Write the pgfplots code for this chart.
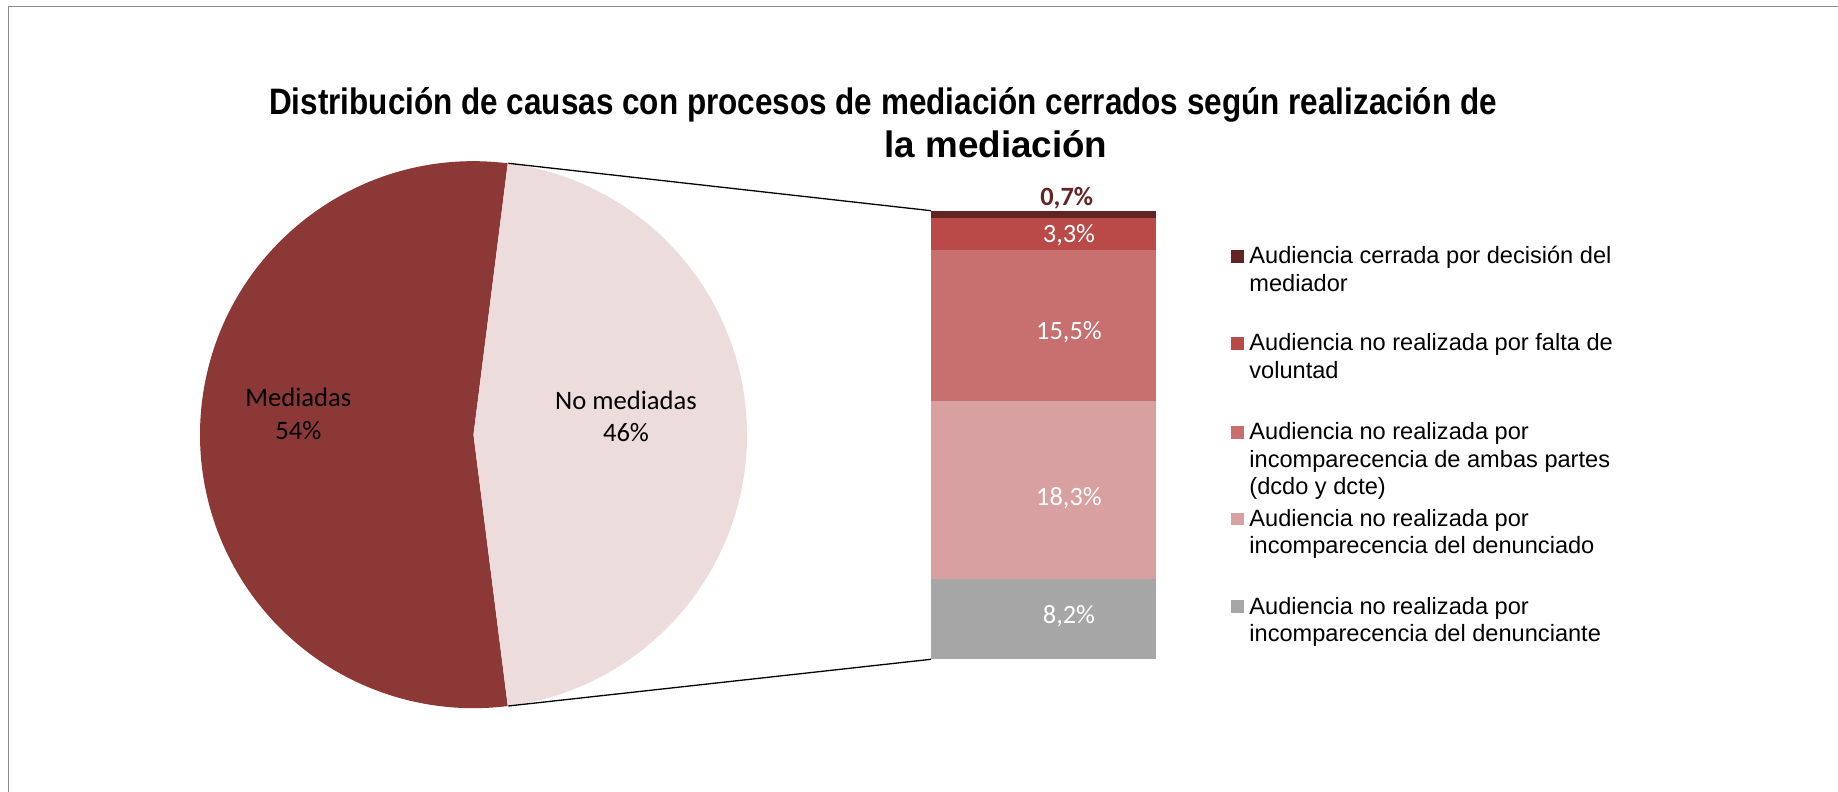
\documentclass[border=0pt]{standalone}
\usepackage{pgfplots}
\pgfplotsset{compat=1.18}
\usepackage{fontspec}
\setmainfont{Liberation Sans}
\newfontfamily\calfont{Carlito}
\definecolor{cMed}{RGB}{140,56,54}
\definecolor{cNo}{RGB}{237,220,220}
\definecolor{cA}{RGB}{99,37,35}
\definecolor{cB}{RGB}{185,74,72}
\definecolor{cC}{RGB}{200,112,112}
\definecolor{cD}{RGB}{216,160,160}
\definecolor{cE}{RGB}{166,166,166}
\definecolor{cFrame}{RGB}{140,140,140}
% pie data (percent)
\def\pMed{54}
\def\pNo{46}
\pgfmathsetmacro{\half}{\pNo*1.8}
\pgfmathsetmacro{\other}{360-\half}
\pgfplotsset{barbox/.style={at={(465.5pt,66.35pt)}, anchor=south west, scale only axis,
  width=112.35pt, height=224.3pt, xmin=-0.5, xmax=0.5, ymin=0, ymax=46,
  hide axis, clip=false}}
\begin{document}
\begin{tikzpicture}
\useasboundingbox (0,0) rectangle (919pt,396pt);
% main canvas axis: 1 unit = 1 px = 0.5pt
\begin{axis}[at={(0pt,0pt)}, anchor=south west, scale only axis,
  width=919pt, height=396pt, xmin=0, xmax=1838, ymin=0, ymax=792,
  hide axis, clip=false]
  % frame
  \draw[cFrame, line width=0.65pt] (axis cs:8.3,0) -- (axis cs:8.3,785.3) -- (axis cs:1838,785.3);
  % pie
  \fill[cMed] (axis cs:473.5,357.3) -- ++(\half:136.75pt) arc[start angle=\half, end angle=\other, radius=136.75pt] -- cycle;
  \fill[cNo] (axis cs:473.5,357.3) -- ++(-\half:136.75pt) arc[start angle=-\half, end angle=\half, radius=136.75pt] -- cycle;
  % connectors
  \draw[black, line width=0.65pt] (axis cs:508.3,628.7) -- (axis cs:931,581.3);
  \draw[black, line width=0.65pt] (axis cs:508.3,86) -- (axis cs:931,132.7);
  % pie labels
  \tikzset{pl/.style={anchor=base, font=\calfont\fontsize{13.3}{15}\selectfont, text=black, inner sep=0pt}}
  \node[pl] at (axis cs:298.3,385.3) {Mediadas};
  \node[pl] at (axis cs:298.3,352) {\pMed\%};
  \node[pl] at (axis cs:626,382) {No mediadas};
  \node[pl] at (axis cs:626,350.3) {\pNo\%};
  % title
  \node[anchor=base, font=\bfseries\fontsize{18.4}{20}\selectfont, inner sep=0pt] at (axis cs:883,677.7) {\scalebox{0.855}[1]{Distribución de causas con procesos de mediación cerrados según realización de}};
  \node[anchor=base, font=\bfseries\fontsize{18.4}{20}\selectfont, inner sep=0pt] at (axis cs:996,634.3) {la mediación};
  % legend markers
  \fill[cA] (axis cs:1231,529.3) rectangle (axis cs:1243.7,542);
  \fill[cB] (axis cs:1231,442.3) rectangle (axis cs:1243.7,455);
  \fill[cC] (axis cs:1231,353.3) rectangle (axis cs:1243.7,366);
  \fill[cD] (axis cs:1231,266.6) rectangle (axis cs:1243.7,279.3);
  \fill[cE] (axis cs:1231,179) rectangle (axis cs:1243.7,191.7);
  \tikzset{lg/.style={anchor=base west, inner sep=0pt, font=\fontsize{11.8}{14}\selectfont, text=black}}
  \node[lg] at (axis cs:1249,528) {Audiencia cerrada por decisión del};
  \node[lg] at (axis cs:1249,500.7) {mediador};
  \node[lg] at (axis cs:1249,441) {Audiencia no realizada por falta de};
  \node[lg] at (axis cs:1249,413.7) {voluntad};
  \node[lg] at (axis cs:1249,352) {Audiencia no realizada por};
  \node[lg] at (axis cs:1249,324.7) {incomparecencia de ambas partes};
  \node[lg] at (axis cs:1249,297.4) {(dcdo y dcte)};
  \node[lg] at (axis cs:1249,265.3) {Audiencia no realizada por};
  \node[lg] at (axis cs:1249,238) {incomparecencia del denunciado};
  \node[lg] at (axis cs:1249,177.7) {Audiencia no realizada por};
  \node[lg] at (axis cs:1249,150.4) {incomparecencia del denunciante};
\end{axis}
% stacked bar of the "No mediadas" breakdown
\begin{axis}[barbox, ybar stacked, bar width=112.35pt]
  \addplot[fill=cE, draw=none] coordinates {(0,8.2)};
  \addplot[fill=cD, draw=none] coordinates {(0,18.3)};
  \addplot[fill=cC, draw=none] coordinates {(0,15.5)};
  \addplot[fill=cB, draw=none] coordinates {(0,3.3)};
  \addplot[fill=cA, draw=none] coordinates {(0,0.7)};
\end{axis}
% data labels of the bar (same frame)
\begin{axis}[barbox]
  \tikzset{bl/.style={anchor=base, inner sep=0pt, text=white, font=\calfont\fontsize{13.2}{15}\selectfont}}
  \node[bl] at (axis cs:0.114,3.69) {8,2\%};
  \node[bl] at (axis cs:0.114,15.72) {18,3\%};
  \node[bl] at (axis cs:0.114,32.81) {15,5\%};
  \node[bl] at (axis cs:0.114,42.72) {3,3\%};
  \node[anchor=base, inner sep=0pt, text=cA, font=\calfont\bfseries\fontsize{13.2}{15}\selectfont] at (axis cs:0.104,46.56) {0,7\%};
\end{axis}
\end{tikzpicture}
\end{document}
